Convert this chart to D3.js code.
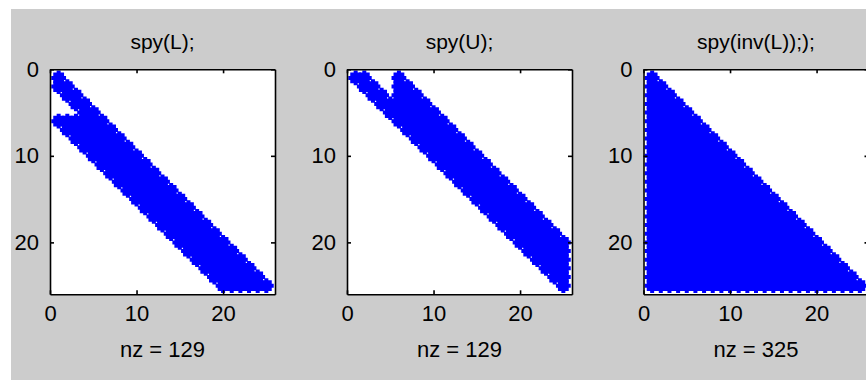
<!DOCTYPE html>
<html>
<head>
<meta charset="utf-8">
<script src="https://cdn.jsdelivr.net/npm/d3@7"></script>
<style>
  html, body { margin: 0; padding: 0; background: #ffffff; }
  svg { display: block; }
  text { font-family: "Liberation Sans", Arial, sans-serif; fill: #000; }
</style>
</head>
<body>
<div id="chart"></div>
<script>
// sparsity patterns: per row a list of [firstCol, lastCol] runs (1-based)
var lRuns = [
  [[1, 1]], [[1, 2]], [[2, 3]], [[3, 4]], [[4, 5]],
  [[1, 6]], [[2, 7]], [[3, 8]], [[4, 9]], [[5, 10]],
  [[6, 11]], [[7, 12]], [[8, 13]], [[9, 14]], [[10, 15]],
  [[11, 16]], [[12, 17]], [[13, 18]], [[14, 19]], [[15, 20]],
  [[16, 21]], [[17, 22]], [[18, 23]], [[19, 24]], [[20, 25]]
];
var uRuns = [
  [[1, 2], [6, 6]], [[2, 3], [6, 7]], [[3, 4], [6, 8]], [[4, 9]], [[5, 10]],
  [[6, 11]], [[7, 12]], [[8, 13]], [[9, 14]], [[10, 15]],
  [[11, 16]], [[12, 17]], [[13, 18]], [[14, 19]], [[15, 20]],
  [[16, 21]], [[17, 22]], [[18, 23]], [[19, 24]], [[20, 25]],
  [[21, 25]], [[22, 25]], [[23, 25]], [[24, 25]], [[25, 25]]
];
var invLRuns = [
  [[1, 1]], [[1, 2]], [[1, 3]], [[1, 4]], [[1, 5]],
  [[1, 6]], [[1, 7]], [[1, 8]], [[1, 9]], [[1, 10]],
  [[1, 11]], [[1, 12]], [[1, 13]], [[1, 14]], [[1, 15]],
  [[1, 16]], [[1, 17]], [[1, 18]], [[1, 19]], [[1, 20]],
  [[1, 21]], [[1, 22]], [[1, 23]], [[1, 24]], [[1, 25]]
];
var titles = ["spy(L);", "spy(U);", "spy(inv(L)););"];
var tickValues = [0, 10, 20];
var matrixSize = 25;

var panels = [
  { title: titles[0], runs: lRuns },
  { title: titles[1], runs: uRuns },
  { title: titles[2], runs: invLRuns }
];

var W = 866, H = 380;
var boxSize = 225, boxTop = 69.3;
var boxLefts = [50, 347, 643.5];

var svg = d3.select("#chart").append("svg")
  .attr("width", W)
  .attr("height", H);

svg.append("rect")
  .attr("x", 11).attr("y", 9)
  .attr("width", W - 11).attr("height", H - 9)
  .attr("fill", "#cccccc");

// asterisk-ish marker, big enough that neighbours merge
var markerPath = "M-5.4,-5.4H-2V-7.4H2V-5.4H5.4V-2H7.4V2H5.4V5.4H2V7.4H-2V5.4H-5.4V2H-7.4V-2H-5.4Z";

function expand(runs) {
  var cells = [];
  runs.forEach(function(rowRuns, i) {
    rowRuns.forEach(function(r) {
      for (var c = r[0]; c <= r[1]; c++) {
        cells.push({ row: i + 1, col: c });
      }
    });
  });
  return cells;
}

panels.forEach(function(p, k) {
  var left = boxLefts[k];
  var x = d3.scaleLinear().domain([0, matrixSize + 1]).range([left, left + boxSize]);
  var y = d3.scaleLinear().domain([0, matrixSize + 1]).range([boxTop, boxTop + boxSize]);
  var cells = expand(p.runs);

  var g = svg.append("g");

  g.append("rect")
    .attr("x", left).attr("y", boxTop)
    .attr("width", boxSize).attr("height", boxSize)
    .attr("fill", "#ffffff");

  g.append("g")
    .selectAll("path")
    .data(cells)
    .join("path")
    .attr("transform", function(d) { return "translate(" + x(d.col) + "," + y(d.row) + ")"; })
    .attr("d", markerPath)
    .attr("fill", "#0000ff");

  // ticks inside the box on all four sides
  var axes = [
    { ax: d3.axisLeft(y), tr: "translate(" + left + ",0)", labels: true },
    { ax: d3.axisBottom(x), tr: "translate(0," + (boxTop + boxSize) + ")", labels: true },
    { ax: d3.axisRight(y), tr: "translate(" + (left + boxSize) + ",0)", labels: false },
    { ax: d3.axisTop(x), tr: "translate(0," + boxTop + ")", labels: false }
  ];
  axes.forEach(function(a) {
    var ag = g.append("g")
      .attr("transform", a.tr)
      .call(a.ax.tickValues(tickValues).tickSizeInner(-4).tickSizeOuter(0).tickPadding(11));
    ag.select(".domain").attr("stroke", "#000").attr("stroke-width", 1.6);
    ag.selectAll(".tick line").attr("stroke", "#000").attr("stroke-width", 1.6);
    if (a.labels) {
      ag.selectAll(".tick text")
        .attr("font-size", 22)
        .attr("font-family", "Liberation Sans, Arial, sans-serif")
        .attr("fill", "#000");
    } else {
      ag.selectAll(".tick text").remove();
    }
  });

  g.append("text")
    .attr("x", left + boxSize / 2)
    .attr("y", 49)
    .attr("text-anchor", "middle")
    .attr("font-size", 21)
    .text(p.title);

  g.append("text")
    .attr("x", left + boxSize / 2)
    .attr("y", 357)
    .attr("text-anchor", "middle")
    .attr("font-size", 22)
    .text("nz = " + cells.length);
});
</script>
</body>
</html>
